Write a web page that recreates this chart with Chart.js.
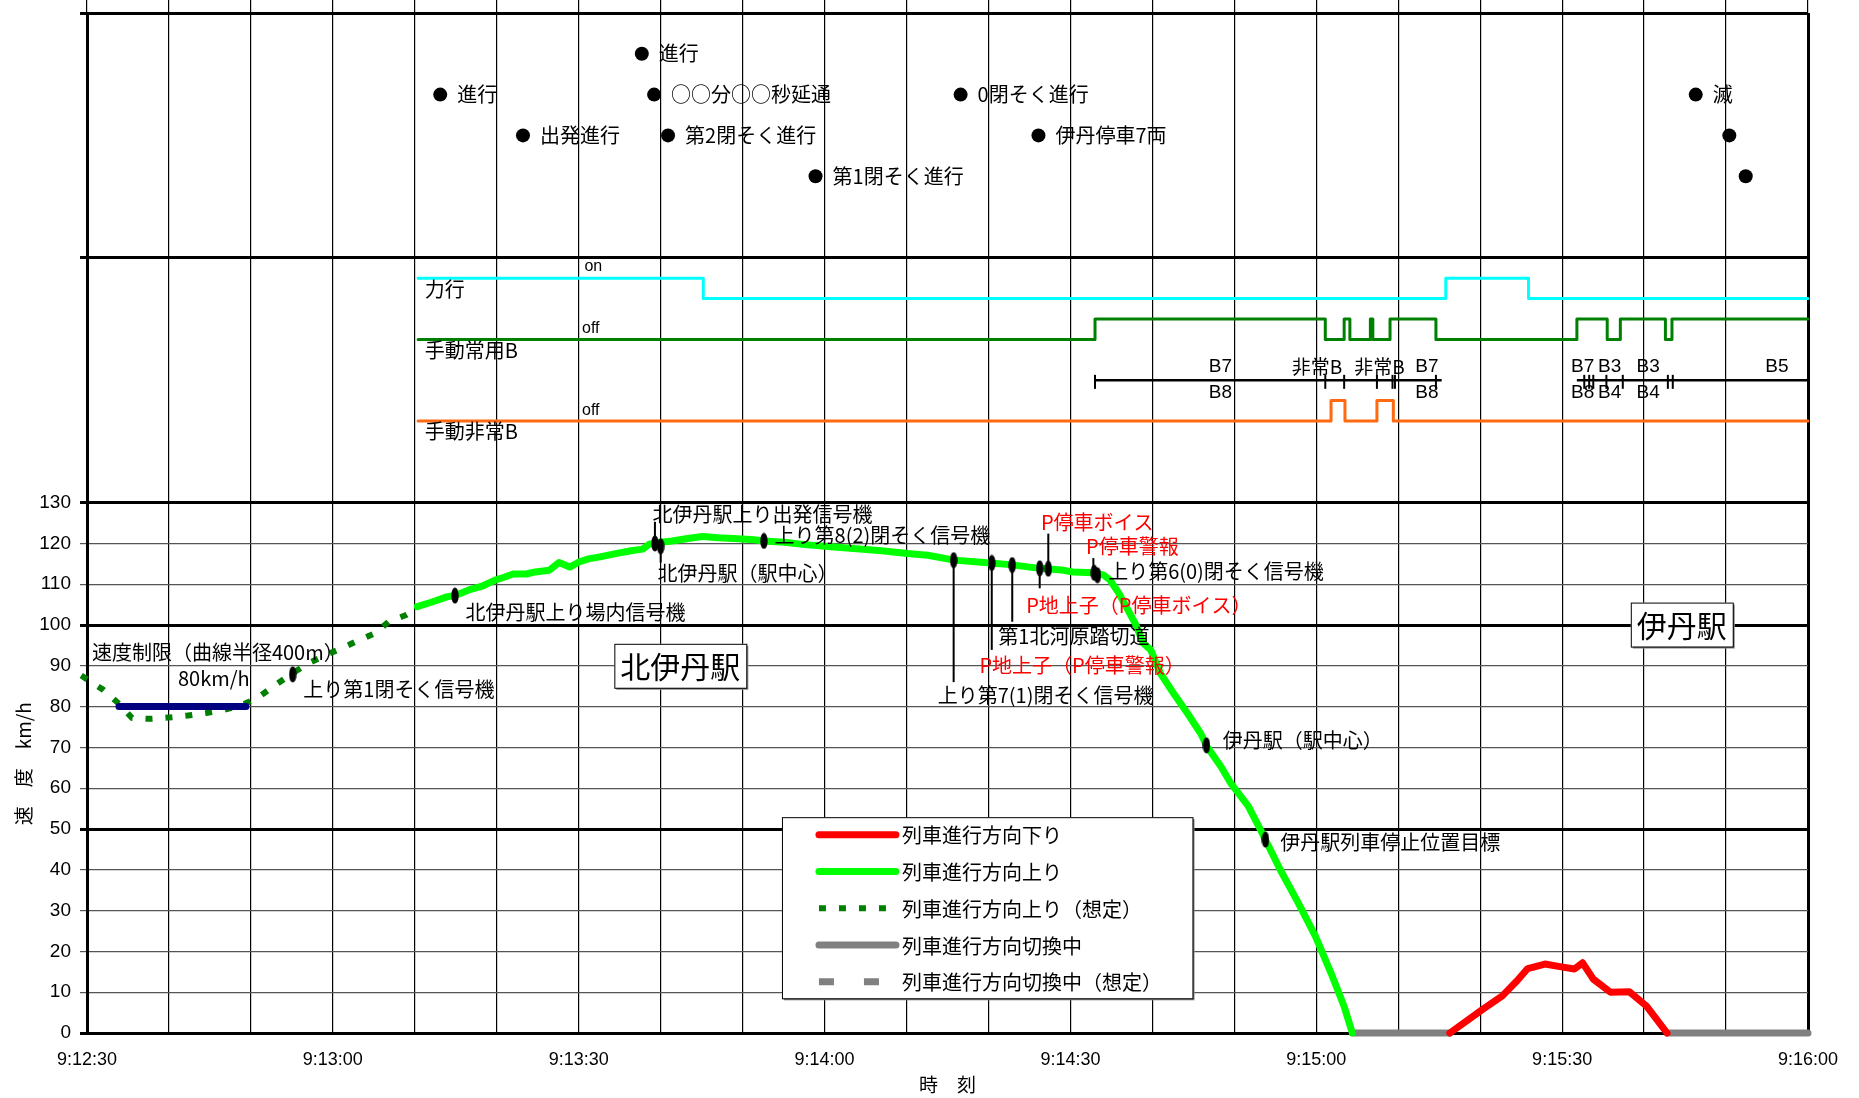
<!DOCTYPE html>
<html lang="ja">
<head>
    <meta charset="UTF-8">
    <title>速度記録 北伊丹駅〜伊丹駅</title>
    <script src="https://cdn.jsdelivr.net/npm/chart.js"></script>
    <style>
        html, body { margin: 0; padding: 0; background: #fff; }
    </style>
</head>
<body>
    <canvas id="speedChart" width="1859" height="1098"></canvas>

    <script>
        // 横軸は 9:12:30 からの経過秒
        var timeLabels = ['9:12:30', '9:13:00', '9:13:30', '9:14:00', '9:14:30', '9:15:00', '9:15:30', '9:16:00'];
        var speedTicks = [0, 10, 20, 30, 40, 50, 60, 70, 80, 90, 100, 110, 120, 130];
        var panelLines = [190, 250];
        var heavyLines = [0, 50, 100, 130, 190, 250];

        // 列車進行方向上り（実測）
        var upT = [40.3, 42.2, 43.9, 45.0, 46.6, 48.2, 49.8, 50.9, 52.0, 53.6, 54.7, 56.4, 57.6, 58.9, 60.1, 61.2,
                   62.6, 64.5, 66.4, 67.8, 68.6, 69.8, 71.4, 73.3, 75.1, 77.0, 78.9, 81.4, 82.6, 85.1, 87.6, 90.8,
                   93.9, 97.0, 100.1, 102.6, 105.8, 109.5, 112.6, 115.8, 118.9, 120.3, 122.8, 124.0, 124.8, 125.9,
                   126.9, 127.9, 128.9, 129.8, 131.0, 132.6, 134.3, 135.9, 136.7, 138.4, 139.6, 141.7, 143.4, 145.6,
                   147.8, 149.9, 151.8, 153.4, 154.4];
        var upV = [104.5, 105.7, 106.9, 107.3, 108.6, 109.5, 111.0, 111.7, 112.5, 112.5, 113.0, 113.4, 115.3, 114.2, 115.5, 116.2,
                   116.7, 117.5, 118.2, 118.6, 119.8, 120.2, 120.6, 121.2, 121.7, 121.4, 121.2, 120.9, 120.6, 120.3, 119.7, 119.2,
                   118.7, 118.2, 117.5, 117.1, 115.9, 115.3, 114.8, 114.0, 113.5, 113.0, 112.8, 112.3, 111.1, 107.8,
                   104.1, 100.4, 95.5, 93.9, 88.1, 83.2, 78.3, 73.4, 70.1, 65.2, 61.1, 55.6, 49.0, 40.0,
                   31.9, 23.7, 14.7, 6.5, 0];

        // 列車進行方向上り（想定）
        var upEstT = [-0.7, 2.0, 3.9, 5.5, 7.7, 9.9, 12.3, 14.5, 16.7, 18.9, 20.8, 22.7, 24.8, 27.0, 29.2, 31.1, 33.0, 35.2, 36.8, 39.0, 40.3];
        var upEstV = [87.6, 84.1, 80.7, 77.2, 77.0, 77.3, 77.8, 78.4, 79.2, 80.4, 82.1, 84.9, 87.8, 90.6, 92.7, 94.3, 96.1, 98.0, 100.8, 102.5, 104.1];

        // 列車進行方向下り
        var downT = [166.3, 170.3, 172.7, 174.5, 175.8, 177.9, 179.9, 181.5, 182.5, 183.8, 185.9, 188.2, 190.3, 192.8];
        var downV = [0, 5.8, 9.1, 12.8, 15.8, 16.9, 16.2, 15.7, 17.2, 13.2, 10.0, 10.1, 6.6, 0];

        // 列車進行方向切換中
        var switchT = [154.4, 166.3, 179.0, 192.8, 210.0];
        var switchV = [0, 0, null, 0, 0];

        // 速度制限 80km/h
        var limitT = [3.9, 19.4];
        var limitV = [80, 80];

        // 力行 / 手動常用B / 手動非常B （段差表示）
        var powerT = [40.4, 75.2, 165.8, 175.9, 210.0];
        var powerV = [185, 180, 185, 180, 180];
        var svcBT = [40.4, 123.0, 151.1, 153.4, 154.1, 156.6, 156.9, 159.0, 164.6, 181.8, 185.5, 187.1, 192.6, 193.4, 210.0];
        var svcBV = [170, 175, 170, 175, 170, 175, 170, 175, 170, 175, 170, 175, 170, 175, 175];
        var emgBT = [40.4, 151.8, 153.5, 157.4, 159.4, 210.0];
        var emgBV = [150, 155, 150, 155, 150, 150];

        // ブレーキノッチ
        var notchT = [123.0, 165.3, 173.0, 181.8, 210.0];
        var notchV = [160, 160, null, 160, 160];
        var notchTickT = [123.0, 151.1, 153.4, 157.4, 159.3, 159.6, 164.6, 182.7, 183.3, 183.8, 185.4, 187.4, 192.9, 193.5];

        // 信号現示
        var sigT = [67.7, 43.1, 69.2, 106.6, 196.3, 53.2, 70.9, 116.1, 200.4, 88.9, 202.4];
        var sigV = [240, 230, 230, 230, 230, 220, 220, 220, 220, 210, 210];
        var sigText = ['進行', '進行', '○○分○○秒延通', '0閉そく進行', '滅', '出発進行', '第2閉そく進行', '伊丹停車7両', '', '第1閉そく進行', ''];

        // 地点マーカー
        var markT = [25.1, 44.9, 69.3, 70.0, 82.6, 105.75, 110.4, 112.9, 116.25, 117.3, 122.9, 123.3, 136.6, 143.8];
        var markV = [87.9, 107.2, 120.0, 119.3, 120.6, 115.9, 115.2, 114.7, 113.9, 113.8, 112.8, 112.2, 70.5, 47.4];

        var JP = "'Noto Sans CJK JP', 'Noto Sans', sans-serif";
        var NARROW = "'Liberation Sans Narrow', 'Liberation Sans', sans-serif";

        function pts(ts, vs) {
            var out = [];
            for (var i = 0; i < Math.min(ts.length, vs.length); i++) out.push({ x: ts[i], y: vs[i] });
            return out;
        }

        function ovalMark() {
            var c = document.createElement('canvas');
            c.width = 8; c.height = 17;
            var g = c.getContext('2d');
            g.fillStyle = '#000';
            g.beginPath();
            g.ellipse(4, 8.5, 3.7, 8, 0, 0, Math.PI * 2);
            g.fill();
            return c;
        }

        function lineSet(label, data, color, width, extra) {
            var ds = {
                label: label, data: data, xAxisID: 'x', yAxisID: 'y',
                borderColor: color, backgroundColor: color, borderWidth: width,
                pointRadius: 0, tension: 0, fill: false, spanGaps: false, clip: false,
                borderCapStyle: 'round', borderJoinStyle: 'round'
            };
            for (var k in extra) ds[k] = extra[k];
            return ds;
        }

        // 注記（位置はレイアウト用）
        var leaders = [[69.3, 120, 125.3], [70.0, 119.3, 115.3], [105.75, 115.9, 86.0], [110.4, 115.2, 93.9],
                       [112.9, 114.7, 100.8], [116.25, 113.9, 109.0], [117.3, 113.8, 122.4], [122.8, 112.8, 116.4]];
        var notes = [
            ['上り第1閉そく信号機', 26.4, 84.2, '#000'],
            ['北伊丹駅上り場内信号機', 46.2, 103.0, '#000'],
            ['北伊丹駅上り出発信号機', 69.0, 127.1, '#000'],
            ['北伊丹駅（駅中心）', 69.6, 112.6, '#000'],
            ['上り第8(2)閉そく信号機', 83.9, 121.9, '#000'],
            ['上り第7(1)閉そく信号機', 103.8, 82.7, '#000'],
            ['P地上子（P停車警報）', 108.9, 90.0, '#f00'],
            ['第1北河原踏切道', 111.2, 97.2, '#000'],
            ['P地上子（P停車ボイス）', 114.6, 104.8, '#f00'],
            ['P停車ボイス', 116.4, 125.1, '#f00'],
            ['P停車警報', 121.9, 119.3, '#f00'],
            ['上り第6(0)閉そく信号機', 124.6, 113.2, '#000'],
            ['伊丹駅（駅中心）', 138.6, 71.7, '#000'],
            ['伊丹駅列車停止位置目標', 145.6, 46.7, '#000'],
            ['速度制限（曲線半径400m）', 0.6, 93.2, '#000'],
            ['80km/h', 11.1, 86.8, '#000'],
            ['力行', 41.2, 182.2, '#000'],
            ['手動常用B', 41.2, 167.2, '#000'],
            ['手動非常B', 41.2, 147.4, '#000']
        ];
        var smallNotes = [['on', 60.7, 187.8], ['off', 60.4, 172.7], ['off', 60.4, 152.6]];
        var notchNotes = [['B7', 138.3, 163.3], ['B8', 138.3, 157.0], ['非常B', 150.1, 163.3], ['非常B', 157.7, 163.3],
                          ['B7', 163.5, 163.3], ['B8', 163.5, 157.0], ['B7', 182.5, 163.3], ['B3', 185.8, 163.3],
                          ['B8', 182.5, 157.0], ['B4', 185.8, 157.0], ['B3', 190.5, 163.3], ['B4', 190.5, 157.0],
                          ['B5', 206.2, 163.3]];
        var stations = [['北伊丹駅', 72.4, 90.0], ['伊丹駅', 194.6, 100.1]];

        var annotate = {
            id: 'annotate',
            beforeDraw: function(chart) {
                var c = chart.ctx;
                c.save();
                c.fillStyle = '#fff';
                c.fillRect(0, 0, chart.width, chart.height);
                c.restore();
            },
            afterDatasetsDraw: function(chart) {
                var c = chart.ctx, xs = chart.scales.x, ys = chart.scales.y;
                var px = function(t) { return xs.getPixelForValue(t); };
                var py = function(v) { return ys.getPixelForValue(v); };
                c.save();

                c.strokeStyle = '#000';
                c.lineWidth = 2;
                leaders.forEach(function(l) {
                    c.beginPath();
                    c.moveTo(px(l[0]), py(l[1]));
                    c.lineTo(px(l[0]), py(l[2]));
                    c.stroke();
                });

                c.textBaseline = 'middle';
                c.textAlign = 'left';
                c.font = '20px ' + JP;
                notes.forEach(function(n) {
                    c.fillStyle = n[3];
                    c.fillText(n[0], px(n[1]), py(n[2]));
                });
                c.fillStyle = '#000';
                for (var i = 0; i < sigT.length; i++) {
                    if (sigText[i]) c.fillText(sigText[i], px(sigT[i]) + 17, py(sigV[i]));
                }

                c.font = '16px ' + NARROW;
                smallNotes.forEach(function(n) { c.fillText(n[0], px(n[1]), py(n[2])); });

                c.textAlign = 'center';
                notchNotes.forEach(function(n) {
                    c.font = (n[0].length > 2 ? '19px ' + JP : '19px ' + NARROW);
                    c.fillText(n[0], px(n[1]), py(n[2]));
                });

                // 駅名
                c.font = '30px ' + JP;
                stations.forEach(function(s) {
                    var w = c.measureText(s[0]).width + 12, h = 44;
                    var cx = px(s[1]), cy = py(s[2]);
                    c.fillStyle = '#909090';
                    c.fillRect(cx - w / 2 + 2, cy - h / 2 + 2, w, h);
                    c.fillStyle = '#fff';
                    c.fillRect(cx - w / 2, cy - h / 2, w, h);
                    c.strokeStyle = '#000';
                    c.lineWidth = 1;
                    c.strokeRect(cx - w / 2 + 0.5, cy - h / 2 + 0.5, w, h);
                    c.fillStyle = '#000';
                    c.fillText(s[0], cx, cy + 1);
                });

                // 凡例
                var bl = px(84.8), br = px(134.9), bt = py(52.9), bb = py(8.5);
                c.fillStyle = '#888';
                c.fillRect(bl + 2, bt + 2, br - bl, bb - bt);
                c.fillStyle = '#fff';
                c.fillRect(bl, bt, br - bl, bb - bt);
                c.strokeStyle = '#000';
                c.lineWidth = 1;
                c.strokeRect(bl + 0.5, bt + 0.5, br - bl, bb - bt);
                var items = chart.data.datasets.filter(function(d) { return d.inLegend; });
                items.forEach(function(d, k) {
                    var yy = bt + 17.7 + k * 36.75;
                    c.save();
                    c.strokeStyle = d.borderColor;
                    c.lineWidth = d.borderWidth;
                    c.lineCap = d.borderDash ? 'butt' : 'round';
                    c.setLineDash(d.borderDash || []);
                    c.beginPath();
                    c.moveTo(bl + 37, yy);
                    c.lineTo(bl + 114, yy);
                    c.stroke();
                    c.restore();
                    c.fillStyle = '#000';
                    c.textAlign = 'left';
                    c.font = '20px ' + JP;
                    c.fillText(d.label, bl + 120, yy + 1);
                });

                // 縦軸タイトル
                c.save();
                c.translate(24, py(66));
                c.rotate(-Math.PI / 2);
                c.textAlign = 'center';
                c.font = '19px ' + JP;
                c.fillStyle = '#000';
                c.fillText('速　度　km/h', 0, 0);
                c.restore();

                c.restore();
            }
        };

        var ctx = document.getElementById('speedChart').getContext('2d');
        var speedChart = new Chart(ctx, {
            type: 'line',
            data: {
                datasets: [
                    lineSet('地点', pts(markT, markV), '#000', 0, { showLine: false, pointRadius: 5, pointStyle: ovalMark() }),
                    lineSet('信号', pts(sigT, sigV), '#000', 0, { showLine: false, pointRadius: 7, pointStyle: 'circle' }),
                    lineSet('ノッチ', pts(notchTickT, notchTickT.map(function() { return 159.6; })), '#000', 2,
                            { showLine: false, pointRadius: 7, pointStyle: 'line', rotation: 90 }),
                    lineSet('ブレーキ', pts(notchT, notchV), '#000', 2.5, { borderCapStyle: 'butt' }),
                    lineSet('力行', pts(powerT, powerV), '#00ffff', 3, { stepped: true }),
                    lineSet('手動常用B', pts(svcBT, svcBV), '#008000', 3, { stepped: true }),
                    lineSet('手動非常B', pts(emgBT, emgBV), '#ff6a10', 3, { stepped: true }),
                    lineSet('速度制限', pts(limitT, limitV), '#000080', 7),
                    lineSet('列車進行方向下り', pts(downT, downV), '#ff0000', 7, { inLegend: true }),
                    lineSet('列車進行方向上り', pts(upT, upV), '#00ff00', 7, { inLegend: true }),
                    lineSet('列車進行方向上り（想定）', pts(upEstT, upEstV), '#008000', 6,
                            { inLegend: true, borderDash: [7, 13], borderCapStyle: 'butt' }),
                    lineSet('列車進行方向切換中', pts(switchT, switchV), '#808080', 7, { inLegend: true }),
                    lineSet('列車進行方向切換中（想定）', [], '#808080', 7,
                            { inLegend: true, borderDash: [15, 30], borderCapStyle: 'butt' })
                ]
            },
            options: {
                responsive: false,
                animation: false,
                events: [],
                layout: { autoPadding: false, padding: { left: 0, right: 51, top: 0, bottom: 0 } },
                plugins: {
                    legend: { display: false },
                    tooltip: { enabled: false }
                },
                scales: {
                    x: {
                        type: 'linear',
                        position: 'bottom',
                        min: 0,
                        max: 210,
                        afterFit: function(s) { s.height = 65; },
                        ticks: {
                            stepSize: 10,
                            autoSkip: false,
                            maxRotation: 0,
                            padding: 16,
                            color: '#000',
                            font: { family: NARROW, size: 18 },
                            callback: function(v) { return v % 30 === 0 ? timeLabels[v / 30] : ''; }
                        },
                        grid: {
                            color: '#000',
                            lineWidth: function(c) { return c.tick && (c.tick.value === 0 || c.tick.value === 210) ? 3 : 1.2; },
                            drawTicks: false
                        },
                        border: { display: true, color: '#000', width: 3 },
                        title: {
                            display: true,
                            text: '時　刻',
                            color: '#000',
                            font: { family: JP, size: 19 },
                            padding: { top: 0, bottom: 2 }
                        }
                    },
                    xTop: {
                        type: 'linear',
                        position: 'top',
                        min: 0,
                        max: 210,
                        afterFit: function(s) { s.height = 13; },
                        ticks: { stepSize: 10, autoSkip: false, display: false },
                        grid: { drawOnChartArea: false, drawTicks: true, tickLength: 13, color: '#000', lineWidth: 1.2 },
                        border: { display: false }
                    },
                    y: {
                        min: 0,
                        max: 250,
                        afterBuildTicks: function(s) {
                            s.ticks = speedTicks.concat(panelLines).map(function(v) { return { value: v }; });
                        },
                        afterFit: function(s) { s.width = 87; s.paddingTop = 0; s.paddingBottom = 0; },
                        ticks: {
                            autoSkip: false,
                            color: '#000',
                            padding: 9,
                            font: { family: NARROW, size: 19 },
                            callback: function(v) { return v <= 130 ? String(v) : ''; }
                        },
                        grid: {
                            color: function(c) { return c.tick && heavyLines.indexOf(c.tick.value) >= 0 ? '#000' : '#555'; },
                            lineWidth: function(c) { return c.tick && heavyLines.indexOf(c.tick.value) >= 0 ? 3 : 1.2; },
                            tickLength: 7
                        },
                        border: { display: true, color: '#000', width: 3 }
                    }
                }
            },
            plugins: [annotate]
        });
    </script>
</body>
</html>
